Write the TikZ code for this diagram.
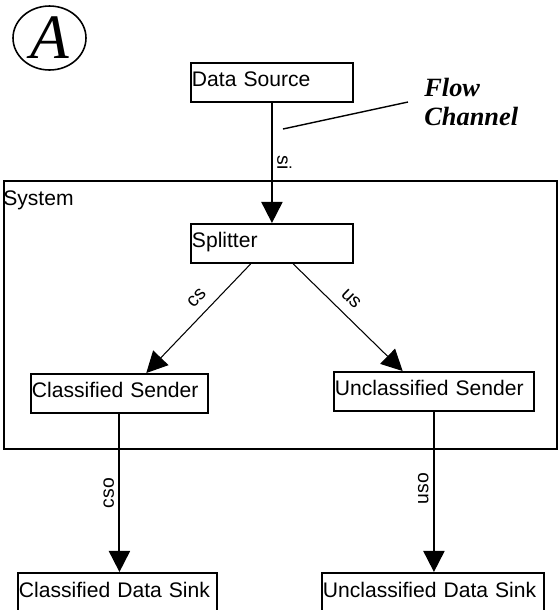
\documentclass[tikz,border=0pt]{standalone}
\usepackage{fontspec}
\setmainfont{Liberation Sans}
\newfontfamily\notefont{Liberation Serif}
\usetikzlibrary{arrows.meta,positioning,calc,shapes.geometric}

\begin{document}
\begin{tikzpicture}[x=0.02cm, y=-0.02cm, >={Triangle[length=12pt,width=12pt]},
  font=\fontsize{12}{14}\selectfont,
  comp/.style={draw, line width=1.1pt, anchor=north west, minimum height=0.78cm,
    inner xsep=0.02cm, inner ysep=0pt, align=left, text height=10pt, text depth=5pt},
  chan/.style={->, line width=1.1pt},
  lbl/.style={font=\fontsize{11}{12}\selectfont, inner sep=2.5pt}]
\useasboundingbox (0,0) rectangle (558,610);
\clip (0,0) rectangle (558,610);

\node[draw, ellipse, line width=0.9pt, minimum width=1.46cm, minimum height=1.28cm, inner sep=0pt,
  font=\notefont\itshape\fontsize{36}{36}\selectfont] (tag) at (49.5,38) {A};

% system boundary
\node[draw, line width=1.1pt, anchor=north west, minimum width=11.06cm, minimum height=5.36cm,
  inner sep=0pt] (sys) at (3,180) {};
\node[anchor=base west, inner sep=0pt] (systxt) at (3,205) {System};

% components
\node[comp, text width=3.2cm] (src) at (190,62) {Data Source};
\node[comp, text width=3.2cm] (split) at (190,223) {Splitter};
\node[comp, text width=3.5cm] (csend) at (30,373) {Classified Sender};
\node[comp, text width=3.96cm] (usend) at (333,371) {Unclassified Sender};
\node[comp, text width=3.94cm, minimum height=0.8cm] (csink) at (17,572) {Classified Data Sink};
\node[comp, text width=4.4cm, minimum height=0.8cm] (usink) at (321,572) {Unclassified Data Sink};

% channels
\draw[chan] (src) -- (split) node[lbl, pos=0.5, anchor=south, rotate=-90] {si};
\draw[->, line width=0.6pt] ($(split.south west)!0.37!(split.south east)$)
  -- ($(csend.north west)!0.65!(csend.north east)$) node[lbl, sloped, above, inner sep=5.5pt, pos=0.41] {cs};
\draw[->, line width=0.6pt] ($(split.south west)!0.63!(split.south east)$)
  -- ($(usend.north west)!0.345!(usend.north east)$) node[lbl, sloped, above, inner sep=5.5pt, pos=0.43] {us};
\draw[chan] (csend) -- (csend |- csink.north) node[lbl, pos=0.5, anchor=south, rotate=90] {cso};
\draw[chan] (usend) -- (usend |- usink.north) node[lbl, pos=0.48, anchor=south, rotate=90] {uso};

% annotation
\node[anchor=west, inner xsep=0.32cm, inner ysep=0pt, align=left,
  font=\notefont\bfseries\itshape\fontsize{15}{16}\selectfont] (flow) at (408,102) {Flow\\Channel};
\coordinate (tap) at (283,129);
\draw[line width=0.8pt] (tap) -- (flow.west);
\end{tikzpicture}
\end{document}
